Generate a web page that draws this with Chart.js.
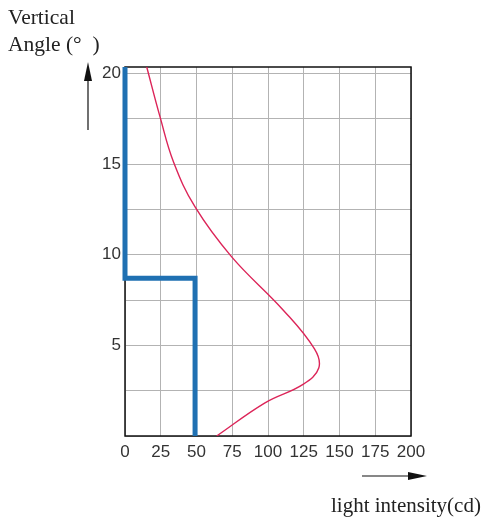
<!DOCTYPE html>
<html>
<head>
<meta charset="utf-8">
<script src="https://cdn.jsdelivr.net/npm/chart.js@4"></script>
<style>
  html, body { margin:0; padding:0; background:#fff; }
  #wrap { position:relative; width:484px; height:521px; }
  canvas { position:absolute; left:0; top:0; }
  .t { position:absolute; font-family:"Liberation Serif","Times New Roman",serif; color:#222; white-space:pre; line-height:1; }
</style>
</head>
<body>
<div id="wrap">
  <canvas id="c" width="484" height="521"></canvas>
  <div class="t" style="left:8px; top:7px; font-size:21.5px;">Vertical</div>
  <div class="t" style="left:8px; top:34px; font-size:21.5px;">Angle (°  )</div>
  <div class="t" style="left:331px; top:495px; font-size:21px;">light intensity(cd)</div>
</div>
<script>
// ---- data ----
const xTickValues = [0, 25, 50, 75, 100, 125, 150, 175, 200];
const yTickValues = [0, 2.5, 5, 7.5, 10, 12.5, 15, 17.5, 20];
const yTickLabels = { 5: '5', 10: '10', 15: '15', 20: '20' };

// blue step line (light intensity, angle)
const blueX = [0, 0, 49, 49];
const blueY = [20.35, 8.7, 8.7, 0];

// red curve (light intensity, angle)
const redX = [64.1, 97.9, 124.5, 135.5, 132.5, 110.7, 74.6, 49.0, 34.0, 24.5, 15.2];
const redY = [0, 1.83, 2.85, 3.75, 4.8, 6.94, 9.88, 12.63, 15.1, 17.6, 20.35];

const toPts = (xs, ys) => xs.map((x, i) => ({ x: x, y: ys[i] }));

const decor = {
  id: 'decor',
  beforeDatasetsDraw(chart) {
    const { ctx, chartArea: a } = chart;
    ctx.save();
    ctx.strokeStyle = '#111';
    ctx.lineWidth = 1.5;
    ctx.strokeRect(a.left, a.top, a.right - a.left, a.bottom - a.top);
    ctx.restore();
  },
  afterDraw(chart) {
    const { ctx } = chart;
    ctx.save();
    ctx.strokeStyle = '#111';
    ctx.fillStyle = '#111';
    ctx.lineWidth = 1.2;
    // up arrow
    ctx.beginPath(); ctx.moveTo(88, 130); ctx.lineTo(88, 75); ctx.stroke();
    ctx.beginPath(); ctx.moveTo(88, 62); ctx.lineTo(84, 81); ctx.lineTo(92, 81); ctx.closePath(); ctx.fill();
    // right arrow
    ctx.beginPath(); ctx.moveTo(362, 476); ctx.lineTo(412, 476); ctx.stroke();
    ctx.beginPath(); ctx.moveTo(427, 476); ctx.lineTo(408, 472); ctx.lineTo(408, 480); ctx.closePath(); ctx.fill();
    ctx.restore();
  }
};

new Chart(document.getElementById('c'), {
  type: 'scatter',
  data: {
    datasets: [
      {
        data: toPts(redX, redY),
        showLine: true,
        borderColor: '#dc2458',
        borderWidth: 1.4,
        pointRadius: 0,
        tension: 0.4,
        fill: false
      },
      {
        data: toPts(blueX, blueY),
        showLine: true,
        borderColor: '#1f70b2',
        borderWidth: 5,
        pointRadius: 0,
        tension: 0,
        fill: false,
        clip: false
      }
    ]
  },
  options: {
    responsive: false,
    animation: false,
    devicePixelRatio: 1,
    layout: { padding: { left: 95, right: 73, top: 67, bottom: 55 } },
    plugins: { legend: { display: false }, tooltip: { enabled: false } },
    scales: {
      x: {
        type: 'linear', min: 0, max: 200,
        afterBuildTicks: s => { s.ticks = xTickValues.map(v => ({ value: v })); },
        afterFit: s => { s.height = 30; },
        grid: { color: '#b3b3b3', lineWidth: 1, drawTicks: false },
        border: { display: false },
        ticks: { padding: 6, color: '#333', font: { family: 'Liberation Sans', size: 17 }, maxRotation: 0, autoSkip: false }
      },
      y: {
        type: 'linear', min: 0, max: 20.35,
        afterBuildTicks: s => { s.ticks = yTickValues.map(v => ({ value: v })); },
        afterFit: s => { s.width = 30; },
        grid: { color: '#b3b3b3', lineWidth: 1, drawTicks: false },
        border: { display: false },
        ticks: { padding: 4, color: '#333', font: { family: 'Liberation Sans', size: 17 }, autoSkip: false,
                 callback: v => yTickLabels[v] || '' }
      }
    }
  },
  plugins: [decor]
});
</script>
</body>
</html>
